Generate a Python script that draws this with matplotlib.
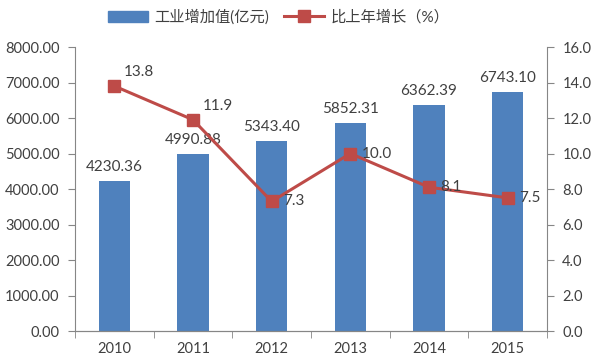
import numpy as np
import matplotlib.pyplot as plt
from matplotlib.lines import Line2D
from matplotlib.patches import Patch

plt.rcParams['font.family'] = ['Lato', 'Noto Sans CJK SC', 'DejaVu Sans']

# данные
years = ["2010", "2011", "2012", "2013", "2014", "2015"]
value_added = [4230.36, 4990.88, 5343.40, 5852.31, 6362.39, 6743.10]
growth = [13.8, 11.9, 7.3, 10.0, 8.1, 7.5]

bar_color = "#4F81BD"
line_color = "#BE4B48"
axis_color = "#868686"
text_color = "#404040"

fig = plt.figure(figsize=(5.93, 3.61), dpi=100)
ax = fig.add_axes([0.1265, 0.0831, 0.7959, 0.7867])
ax2 = ax.twinx()

x = np.arange(len(years))
ax.bar(x, value_added, width=0.4, color=bar_color, zorder=2)
for xi, v in zip(x, value_added):
    ax.annotate(f"{v:.2f}", (xi, v), xytext=(0, 5), textcoords="offset points",
                ha="center", va="bottom", fontsize=11, color=text_color)

ax2.plot(x, growth, color=line_color, linewidth=2.2, marker="s", markersize=8,
         markerfacecolor=line_color, markeredgecolor=line_color, zorder=3)
offsets = [(7, 5), (7, 5), (8, 0), (8, 0), (8, 0), (8, 0)]
for xi, g, off in zip(x, growth, offsets):
    ax2.annotate(f"{g:.1f}", (xi, g), xytext=off, textcoords="offset points",
                 ha="left", va="bottom" if off[1] else "center",
                 fontsize=11, color=text_color)

ax.set_xlim(-0.5, len(years) - 0.5)
ax.set_ylim(0, 8000)
ax2.set_ylim(0, 16)
ax.set_yticks(np.arange(0, 8001, 1000))
ax.set_yticklabels([f"{v:.2f}" for v in np.arange(0, 8001, 1000)])
ax2.set_yticks(np.arange(0, 16.1, 2))
ax2.set_yticklabels([f"{v:.1f}" for v in np.arange(0, 16.1, 2)])

ax.set_xticks(x)
ax.set_xticklabels(years)
ax.set_xticks(np.arange(-0.5, len(years)), minor=True)
ax.tick_params(axis="x", which="major", length=0, pad=8, labelsize=10.5, labelcolor=text_color)
ax.tick_params(axis="x", which="minor", length=5, color=axis_color, direction="out")
ax.tick_params(axis="y", length=5, color=axis_color, labelsize=10.5, labelcolor=text_color, pad=6)
ax2.tick_params(axis="y", length=5, color=axis_color, labelsize=10.5, labelcolor=text_color, pad=6)

for a in (ax, ax2):
    a.spines["top"].set_visible(False)
    for s in ("left", "right", "bottom"):
        a.spines[s].set_color(axis_color)
ax.spines["right"].set_visible(False)
ax2.spines["left"].set_visible(False)

handles = [Patch(color=bar_color),
           Line2D([], [], color=line_color, linewidth=2.2, marker="s", markersize=8)]
fig.legend(handles, ["工业增加值(亿元)", "比上年增长（%）"], loc="center",
           bbox_to_anchor=(0.47, 0.953), ncol=2, frameon=False, fontsize=11,
           handlelength=2.6, columnspacing=1.0, handletextpad=0.4,
           labelcolor=text_color)

fig.savefig("out.png", dpi=100)
